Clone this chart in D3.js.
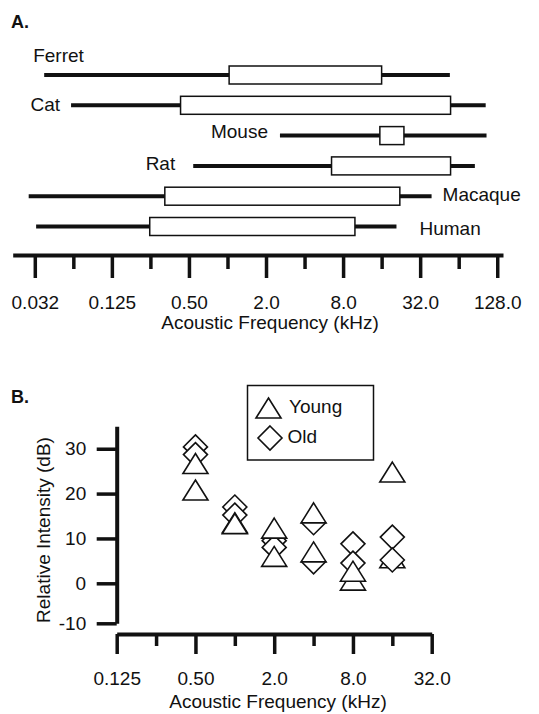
<!DOCTYPE html>
<html>
<head>
<meta charset="utf-8">
<script src="https://cdn.jsdelivr.net/npm/d3@7/dist/d3.min.js"></script>
<style>
  body { margin: 0; background: #fff; }
  svg { display: block; font-family: "Liberation Sans", Arial, Helvetica, sans-serif; }
</style>
</head>
<body>
<svg></svg>
<script>
// ---- Panel A: hearing range per species (kHz) ----
var species   = ['Ferret', 'Cat', 'Mouse', 'Rat', 'Macaque', 'Human'];
var rangeLow  = [0.037, 0.060, 2.57, 0.54, 0.028, 0.032];
var rangeHigh = [54.6, 104, 105.6, 85.6, 39.3, 20.9];
var boxLow    = [1.03, 0.43, 15.5, 6.5, 0.324, 0.247];
var boxHigh   = [16.0, 55.3, 23.9, 55.3, 22.2, 9.9];

var ticksA      = [0.03125, 0.125, 0.5, 2, 8, 32, 128];
var tickLabelsA = ['0.032', '0.125', '0.50', '2.0', '8.0', '32.0', '128.0'];
var minorA      = [0.0625, 0.25, 1, 4, 16, 64];

// ---- Panel B: relative intensity, listed in drawing order ----
var markerFreq  = [0.5, 0.5, 0.5, 0.5,  1, 1, 1, 1,  2, 2, 2, 2,  4, 4, 4, 4,  8, 8, 8, 8,  16, 16, 16, 16];
var markerDb    = [30.4, 28.7, 26.7, 20.8,  17.0, 15.2, 13.5, 13.3,  9.5, 8.0, 12.3, 6.0,
                   13.5, 4.8, 15.7, 7.0,  8.8, 4.5, 0.7, 2.7,  24.8, 5.7, 10.3, 5.2];
var markerGroup = ['Old', 'Old', 'Young', 'Young',  'Old', 'Old', 'Young', 'Young',  'Old', 'Old', 'Young', 'Young',
                   'Old', 'Old', 'Young', 'Young',  'Old', 'Old', 'Young', 'Young',  'Young', 'Young', 'Old', 'Old'];

var ticksB      = [0.125, 0.5, 2, 8, 32];
var tickLabelsB = ['0.125', '0.50', '2.0', '8.0', '32.0'];
var minorB      = [0.25, 1, 4, 16];
var yTicksB     = [-10, 0, 10, 20, 30];

var svg = d3.select('svg').attr('width', 539).attr('height', 714);
var ink = '#111';

// label placement next to each species line
var labelPos = {
  Ferret:  {end: 'lo', anchor: 'start', dx: -11, dy: -13},
  Cat:     {end: 'lo', anchor: 'end',   dx: -11, dy: 6},
  Mouse:   {end: 'lo', anchor: 'end',   dx: -12, dy: 2},
  Rat:     {end: 'lo', anchor: 'end',   dx: -18, dy: 4},
  Macaque: {end: 'hi', anchor: 'start', dx: 11,  dy: 5},
  Human:   {end: 'hi', anchor: 'start', dx: 23,  dy: 8}
};

function styleAxis(g) {
  g.select('.domain').attr('stroke', ink).attr('stroke-width', 4);
  g.selectAll('.tick line').attr('stroke', ink).attr('stroke-width', 3.5);
  g.selectAll('.tick text').attr('fill', ink).style('font-size', '19px');
}

// ================= Panel A =================
svg.append('text').attr('x', 11).attr('y', 28).style('font-weight', 'bold')
  .style('font-size', '18px').attr('fill', ink).text('A.');

var xA = d3.scaleLog().base(2).domain([0.021, 142]).range([12.7, 503]);
var yA = d3.scalePoint().domain(species).range([75, 226.5]);
var boxH = 18;

var rows = species.map(function(s, i) {
  return {name: s, lo: rangeLow[i], hi: rangeHigh[i], b0: boxLow[i], b1: boxHigh[i]};
});

var gA = svg.append('g');
gA.selectAll('.range').data(rows).enter().append('line')
  .attr('class', 'range')
  .attr('x1', d => xA(d.lo)).attr('x2', d => xA(d.hi))
  .attr('y1', d => yA(d.name)).attr('y2', d => yA(d.name))
  .attr('stroke', ink).attr('stroke-width', 4);

gA.selectAll('.box').data(rows).enter().append('rect')
  .attr('class', 'box')
  .attr('x', d => xA(d.b0)).attr('width', d => xA(d.b1) - xA(d.b0))
  .attr('y', d => yA(d.name) - boxH / 2).attr('height', boxH)
  .attr('fill', '#fff').attr('stroke', ink).attr('stroke-width', 1.5);

gA.selectAll('.name').data(rows).enter().append('text')
  .attr('class', 'name')
  .attr('x', d => xA(labelPos[d.name].end == 'lo' ? d.lo : d.hi) + labelPos[d.name].dx)
  .attr('y', d => yA(d.name) + labelPos[d.name].dy)
  .attr('text-anchor', d => labelPos[d.name].anchor)
  .style('font-size', '19px').attr('fill', ink)
  .text(d => d.name);

var axA = svg.append('g').attr('transform', 'translate(0,255)')
  .call(d3.axisBottom(xA).tickValues(ticksA).tickSize(23).tickSizeOuter(0).tickPadding(18)
    .tickFormat((d, i) => tickLabelsA[i]));
styleAxis(axA);
var axAm = svg.append('g').attr('transform', 'translate(0,255)')
  .call(d3.axisBottom(xA).tickValues(minorA).tickSize(14).tickFormat(''));
axAm.select('.domain').remove();
styleAxis(axAm);

svg.append('text').attr('x', 270).attr('y', 329).attr('text-anchor', 'middle')
  .style('font-size', '19px').attr('fill', ink).text('Acoustic Frequency (kHz)');

// ================= Panel B =================
svg.append('text').attr('x', 11).attr('y', 403).style('font-weight', 'bold')
  .style('font-size', '18px').attr('fill', ink).text('B.');

var xB = d3.scaleLog().base(2).domain([0.125, 32]).range([116.7, 431.7]);
var yB = d3.scaleLinear().domain([-10, 0, 35]).range([623.3, 583.3, 426.3]);

var axBx = svg.append('g').attr('transform', 'translate(0,634)')
  .call(d3.axisBottom(xB).tickValues(ticksB).tickSize(20).tickSizeOuter(0).tickPadding(17.5)
    .tickFormat((d, i) => tickLabelsB[i]));
styleAxis(axBx);
var axBm = svg.append('g').attr('transform', 'translate(0,634)')
  .call(d3.axisBottom(xB).tickValues(minorB).tickSize(12).tickFormat(''));
axBm.select('.domain').remove();
styleAxis(axBm);

var axBy = svg.append('g').attr('transform', 'translate(116.7,0)')
  .call(d3.axisLeft(yB).tickValues(yTicksB).tickSize(20).tickSizeOuter(0).tickPadding(10.5)
    .tickFormat(d => String(d)));
styleAxis(axBy);

svg.append('text').attr('x', 278).attr('y', 708).attr('text-anchor', 'middle')
  .style('font-size', '19px').attr('fill', ink).text('Acoustic Frequency (kHz)');
svg.append('text').attr('transform', 'translate(43.5,530) rotate(-90)')
  .attr('text-anchor', 'middle').attr('dy', '0.35em')
  .style('font-size', '19px').attr('fill', ink).text('Relative Intensity (dB)');

var shapes = {
  Young: 'M0,-10L12.5,10L-12.5,10Z',
  Old: 'M0,-12L12,0L0,12L-12,0Z'
};

var pts = markerFreq.map(function(f, i) {
  return {f: f, v: markerDb[i], g: markerGroup[i]};
});

svg.append('g').selectAll('path').data(pts).enter().append('path')
  .attr('transform', d => 'translate(' + xB(d.f) + ',' + yB(d.v) + ')')
  .attr('d', d => shapes[d.g])
  .attr('fill', '#fff').attr('stroke', ink).attr('stroke-width', 1.6)
  .attr('stroke-linejoin', 'miter');

// legend
var leg = svg.append('g');
leg.append('rect').attr('x', 247.5).attr('y', 385.5).attr('width', 126).attr('height', 74.5)
  .attr('fill', '#fff').attr('stroke', ink).attr('stroke-width', 1.5);
['Young', 'Old'].forEach(function(g, i) {
  leg.append('path').attr('transform', 'translate(' + (268.5 + i * 1.5) + ',' + (408 + i * 30) + ')')
    .attr('d', shapes[g]).attr('fill', '#fff').attr('stroke', ink).attr('stroke-width', 1.6);
  leg.append('text').attr('x', 289 - i * 1.5).attr('y', 413 + i * 30)
    .style('font-size', '19px').attr('fill', ink).text(g);
});
</script>
</body>
</html>
